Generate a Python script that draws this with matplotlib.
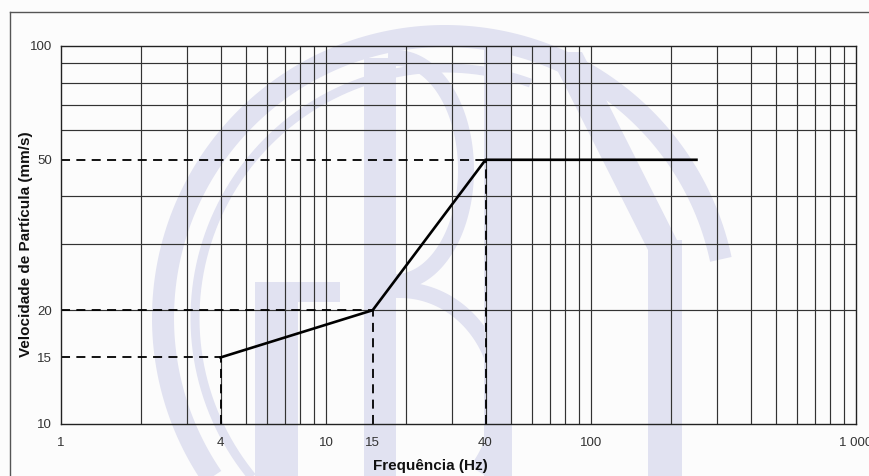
import numpy as np
import matplotlib
matplotlib.use("Agg")
import matplotlib.pyplot as plt
from matplotlib.ticker import FixedLocator, NullFormatter, LogLocator

# ---- data ----
freq = [4, 15, 40, 250]          # Hz
vel = [15, 20, 50, 50]           # mm/s
ref_points_x = [4, 15, 40]
ref_points_y = [15, 20, 50]
xticks = [1, 4, 10, 15, 40, 100, 1000]
xticklabels = ["1", "4", "10", "15", "40", "100", "1 000"]
yticks = [10, 15, 20, 50, 100]
yticklabels = ["10", "15", "20", "50", "100"]

plt.rcParams['font.family'] = ['Liberation Sans', 'DejaVu Sans']

W, H = 870, 476
fig = plt.figure(figsize=(W / 100, H / 100), dpi=100, facecolor='#fcfcfc')

# ---- watermark (decorative, figure pixel coords) ----
bg = fig.add_axes([0, 0, 1, 1], zorder=0)
bg.set_xlim(0, W)
bg.set_ylim(H, 0)
bg.axis('off')
wm = '#e1e2f1'
px = 0.72  # points per pixel

def arc(cx, cy, r, a0, a1, lw):
    t = np.radians(np.linspace(a0, a1, 200))
    bg.plot(cx + r * np.cos(t), cy - r * np.sin(t), color=wm, lw=lw * px,
            solid_capstyle='butt')

arc(445, 318, 282, 12, 265, 22)
arc(445, 318, 250, 70, 250, 9)
# A
bg.fill([255, 298, 298, 255], [290, 290, 476, 476], color=wm, lw=0)
bg.fill([255, 340, 340, 255], [282, 282, 302, 302], color=wm, lw=0)
# B stem
bg.fill([364, 396, 396, 364], [58, 58, 476, 476], color=wm, lw=0)
t = np.radians(np.linspace(90, -90, 100))
bg.plot(396 + 70 * np.cos(t), 170 - 112 * np.sin(t), color=wm, lw=16 * px)
bg.plot(400 + 100 * np.cos(t[:70]), 400 - 110 * np.sin(t[:70]), color=wm, lw=16 * px)
# N
bg.fill([484, 512, 512, 484], [48, 48, 476, 476], color=wm, lw=0)
bg.fill([548, 582, 682, 648], [52, 52, 250, 250], color=wm, lw=0)
bg.fill([648, 682, 682, 648], [240, 240, 476, 476], color=wm, lw=0)

# frame around figure
bg.plot([10, 10], [12, H + 5], color='#555555', lw=1.0)
bg.plot([10, W + 5], [12, 12], color='#555555', lw=1.0)

# ---- main chart ----
ax = fig.add_axes([61 / W, 1 - 424 / H, (856 - 61) / W, (424 - 46) / H], zorder=1)
ax.patch.set_alpha(0)
ax.set_xscale('log')
ax.set_yscale('log')
ax.set_xlim(1, 1000)
ax.set_ylim(10, 100)

ax.xaxis.set_major_locator(FixedLocator(xticks))
ax.set_xticklabels(xticklabels)
ax.yaxis.set_major_locator(FixedLocator(yticks))
ax.set_yticklabels(yticklabels)
ax.xaxis.set_minor_locator(LogLocator(base=10, subs=np.arange(2, 10)))
ax.yaxis.set_minor_locator(LogLocator(base=10, subs=np.arange(2, 10)))
ax.xaxis.set_minor_formatter(NullFormatter())
ax.yaxis.set_minor_formatter(NullFormatter())
ax.tick_params(which='both', length=0)
ax.tick_params(axis='x', pad=9, labelsize=9.5, labelcolor='#333333')
ax.tick_params(axis='y', pad=6.5, labelsize=9.5, labelcolor='#333333')

# grid: minor log lines + decades
for v in [2, 3, 4, 5, 6, 7, 8, 9, 10, 20, 30, 40, 50, 60, 70, 80, 90, 100,
          200, 300, 400, 500, 600, 700, 800, 900]:
    ax.axvline(v, color='#333333', lw=0.85, zorder=1)
for v in [20, 30, 40, 60, 70, 80, 90]:
    ax.axhline(v, color='#333333', lw=0.85, zorder=1)

for s in ax.spines.values():
    s.set_color('#222222')
    s.set_linewidth(1.0)

# dashed reference lines
for xv, yv in zip(ref_points_x, ref_points_y):
    ax.plot([1, xv], [yv, yv], color='black', lw=1.3, ls=(0, (5, 3.5)), zorder=2)
    ax.plot([xv, xv], [10, yv], color='black', lw=1.3, ls=(0, (5, 3.5)), zorder=2)

ax.plot(freq, vel, color='black', lw=1.9, zorder=3, solid_joinstyle='miter')

fig.text(430 / W, 1 - 466 / H, 'Frequência (Hz)', ha='center', va='center',
         fontsize=11, fontweight='bold', color='#111111')
fig.text(26 / W, 1 - 244 / H, 'Velocidade de Partícula (mm/s)', ha='center', va='center',
         rotation=90, fontsize=11, fontweight='bold', color='#111111')

fig.savefig('out.png', dpi=100, facecolor=fig.get_facecolor())
